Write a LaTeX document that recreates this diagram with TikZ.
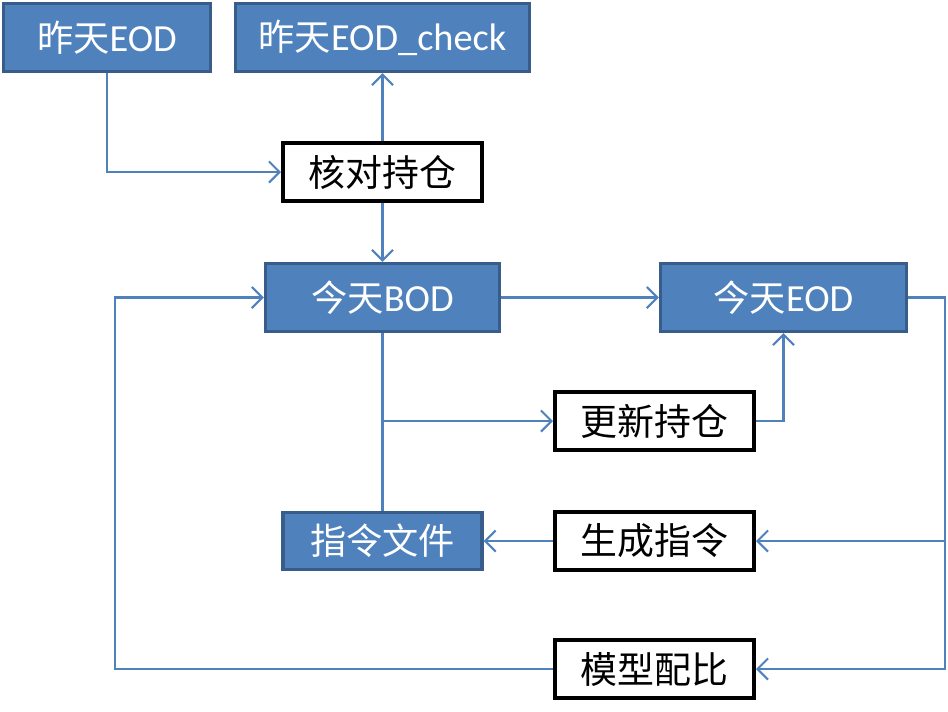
\documentclass[tikz,border=0pt]{standalone}
\usepackage{fontspec}
\setmainfont{Carlito}
\newfontfamily\cjk{Noto Sans CJK SC}
\usetikzlibrary{arrows.meta}
\definecolor{boxblue}{HTML}{4F81BD}
\definecolor{boxedge}{HTML}{385D8A}
\begin{document}
\begin{tikzpicture}[x=0.01cm,y=-0.01cm,
	bluebox/.style={draw=boxedge, line width=0.9pt, fill=boxblue, text=white, minimum height=0.68cm, inner sep=0pt, font=\fontsize{10.9}{12}\selectfont},
	whitebox/.style={draw=black, line width=1.1pt, fill=white, minimum width=1.99cm, minimum height=0.58cm, inner sep=0pt, font=\cjk\fontsize{10.5}{12}\selectfont},
	plain/.style={draw=boxblue, line width=0.6pt},
	link/.style={plain, -{Straight Barb[length=3pt,width=6pt]}}]

	\useasboundingbox (0,0) rectangle (948,711);

	%yesterday
	\node[bluebox, minimum width=2.07cm] (yeod) at (107,37.5) {{\cjk\fontsize{10.3}{12}\selectfont 昨天}EOD};
	\node[bluebox, minimum width=2.93cm] (ycheck) at (382.5,37.5) {{\cjk\fontsize{10.3}{12}\selectfont 昨天}EOD\_check};
	\node[whitebox] (check) at (382.5,172) {核对持仓};

	%today
	\node[bluebox, minimum width=2.34cm] (bod) at (382.5,297.5) {{\cjk\fontsize{10.3}{12}\selectfont 今天}BOD};
	\node[bluebox, minimum width=2.46cm] (teod) at (783.5,297.5) {{\cjk\fontsize{10.3}{12}\selectfont 今天}EOD};
	\node[whitebox] (update) at (654.5,421) {更新持仓};

	%orders and model
	\node[bluebox, minimum width=1.99cm, minimum height=0.57cm, font=\cjk\fontsize{10.3}{12}\selectfont] (file) at (382.5,541) {指令文件};
	\node[whitebox] (gen) at (654.5,541) {生成指令};
	\node[whitebox] (model) at (654.5,669) {模型配比};

	\coordinate (rside) at (945,297.5);
	\coordinate (lside) at (115,669);

	%connectors
	\draw[link] (yeod.south) |- (check.west);
	\draw[link] (check.north) -- (ycheck.south);
	\draw[link] (check.south) -- (bod.north);
	\draw[link] (bod.east) -- (teod.west);
	\draw[plain] (bod.south) -- (file.north);
	\draw[link] (bod.south |- update.west) -- (update.west);
	\draw[link] (update.east) -| (teod.south);
	\draw[link] (teod.east) -- (rside) |- (model.east);
	\draw[link] (rside |- gen.east) -- (gen.east);
	\draw[link] (gen.west) -- (file.east);
	\draw[link] (model.west) -- (lside) |- (bod.west);
\end{tikzpicture}
\end{document}
